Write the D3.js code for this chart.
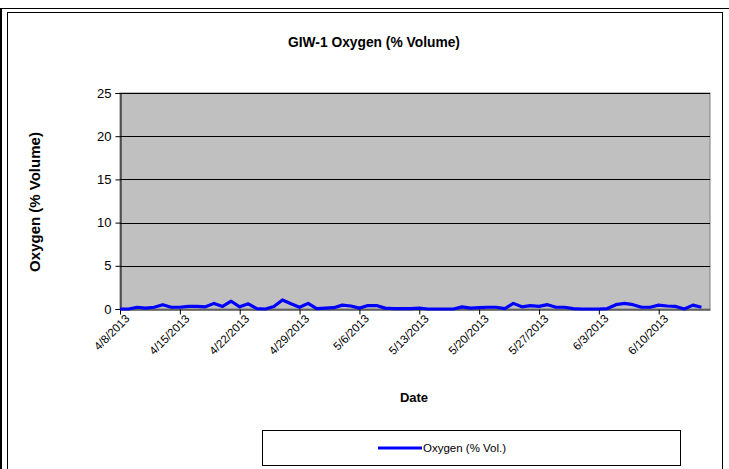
<!DOCTYPE html>
<html>
<head>
<meta charset="utf-8">
<script src="https://cdn.jsdelivr.net/npm/d3@7"></script>
<style>
  html, body { margin: 0; padding: 0; background: #fff; }
  svg { display: block; font-family: "Liberation Sans", Arial, sans-serif; }
</style>
</head>
<body>
<svg id="chart" width="729" height="469"></svg>
<script>
// Oxygen readings at GIW-1, one per day from 4/8/2013
const startDate = "2013-04-08";
const dayOffsets = [0,1,2,3,4,5,6,7,8,9,10,11,12,13,14,15,16,17,18,19,20,21,22,23,24,25,26,27,28,29,30,31,32,33,34,35,36,37,38,39,40,41,42,43,44,45,46,47,48,49,50,51,52,53,54,55,56,57,58,59,60,61,62,63,64,65,66,67,68];
const oxygenValues = [0,0,0.2,0.1,0.2,0.5,0.2,0.2,0.3,0.3,0.25,0.65,0.3,0.9,0.25,0.6,0.05,0,0.3,1.05,0.6,0.2,0.65,0.05,0.1,0.15,0.45,0.35,0.1,0.4,0.4,0.1,0.05,0.05,0.05,0.1,0,0,0,0,0.25,0.1,0.15,0.2,0.2,0.05,0.65,0.25,0.4,0.3,0.5,0.2,0.2,0.05,0,0,0,0.05,0.5,0.65,0.5,0.2,0.2,0.45,0.35,0.3,0,0.45,0.2];
const xTickLabels = ["4/8/2013","4/15/2013","4/22/2013","4/29/2013","5/6/2013","5/13/2013","5/20/2013","5/27/2013","6/3/2013","6/10/2013"];
const yTicks = [0,5,10,15,20,25];
const seriesName = "Oxygen (% Vol.)";

const parse = d3.timeParse("%Y-%m-%d");
const t0 = parse(startDate);
const points = dayOffsets.map((d, i) => ({ date: d3.timeDay.offset(t0, d), value: oxygenValues[i] }));
const tickDates = xTickLabels.map(s => d3.timeParse("%m/%d/%Y")(s));

const svg = d3.select("#chart");
const FONT = "Liberation Sans, Arial, sans-serif";

// page frame lines and chart border
svg.append("line").attr("x1", 0).attr("x2", 729).attr("y1", 8.5).attr("y2", 8.5).attr("stroke", "#000");
svg.append("line").attr("x1", 1).attr("x2", 1).attr("y1", 8).attr("y2", 469).attr("stroke", "#000").attr("stroke-width", 2);
svg.append("rect").attr("x", 7.5).attr("y", 12.5).attr("width", 715).attr("height", 470)
  .attr("fill", "#fff").attr("stroke", "#000");

const plot = { left: 120, right: 710, top: 93, bottom: 309 };

const x = d3.scaleTime()
  .domain([t0, d3.timeDay.offset(t0, 69)])
  .range([plot.left, plot.right]);
const y = d3.scaleLinear().domain([0, 25]).range([plot.bottom, plot.top]);

// plot background
svg.append("rect")
  .attr("x", plot.left).attr("y", plot.top)
  .attr("width", plot.right - plot.left).attr("height", plot.bottom - plot.top)
  .attr("fill", "#c0c0c0").attr("stroke", "#808080");

// horizontal gridlines
svg.append("g").selectAll("line").data(yTicks.filter(v => v > 0)).join("line")
  .attr("x1", plot.left).attr("x2", plot.right)
  .attr("y1", d => Math.round(y(d)) + 0.5).attr("y2", d => Math.round(y(d)) + 0.5)
  .attr("stroke", "#000");

// y axis
const yAxis = svg.append("g")
  .attr("transform", `translate(${plot.left + 0.5},0)`)
  .call(d3.axisLeft(y).tickValues(yTicks).tickSize(5).tickPadding(4).tickFormat(d3.format("d")));
yAxis.select(".domain").attr("stroke", "#000");
yAxis.selectAll(".tick line").attr("stroke", "#000");
yAxis.selectAll("text").attr("font-size", 13).attr("fill", "#000").attr("font-family", FONT);

// x axis
const xAxis = svg.append("g")
  .attr("transform", `translate(0,${plot.bottom + 0.5})`)
  .call(d3.axisBottom(x).tickValues(tickDates).tickSize(5).tickSizeOuter(0)
    .tickFormat((d, i) => xTickLabels[i]));
xAxis.select(".domain").attr("stroke", "#000");
xAxis.selectAll(".tick line").attr("stroke", "#000");
xAxis.selectAll("text")
  .attr("font-size", 11.5).attr("fill", "#000").attr("font-family", FONT)
  .attr("text-anchor", "end")
  .attr("dy", "0.35em").attr("y", 0)
  .attr("transform", "translate(7,7) rotate(-45)");

// data line
const line = d3.line().x(d => x(d.date)).y(d => y(d.value));
svg.append("path").datum(points)
  .attr("d", line).attr("fill", "none")
  .attr("stroke", "#0000ff").attr("stroke-width", 3.2).attr("stroke-linejoin", "round");

// titles
svg.append("text").attr("x", 374).attr("y", 47).attr("text-anchor", "middle")
  .attr("font-size", 13.8).attr("font-weight", "bold").text("GIW-1 Oxygen (% Volume)");
svg.append("text").attr("transform", "translate(40,202) rotate(-90)").attr("text-anchor", "middle")
  .attr("font-size", 15).attr("font-weight", "bold").text("Oxygen (% Volume)");
svg.append("text").attr("x", 414).attr("y", 402).attr("text-anchor", "middle")
  .attr("font-size", 13).attr("font-weight", "bold").text("Date");

// legend
const legend = svg.append("g");
legend.append("rect").attr("x", 262.5).attr("y", 430.5).attr("width", 418).attr("height", 35)
  .attr("fill", "#fff").attr("stroke", "#000");
legend.append("line").attr("x1", 378).attr("x2", 422).attr("y1", 448).attr("y2", 448)
  .attr("stroke", "#0000ff").attr("stroke-width", 3.2);
legend.append("text").attr("x", 423).attr("y", 452).attr("font-size", 11.5).text(seriesName);
</script>
</body>
</html>
